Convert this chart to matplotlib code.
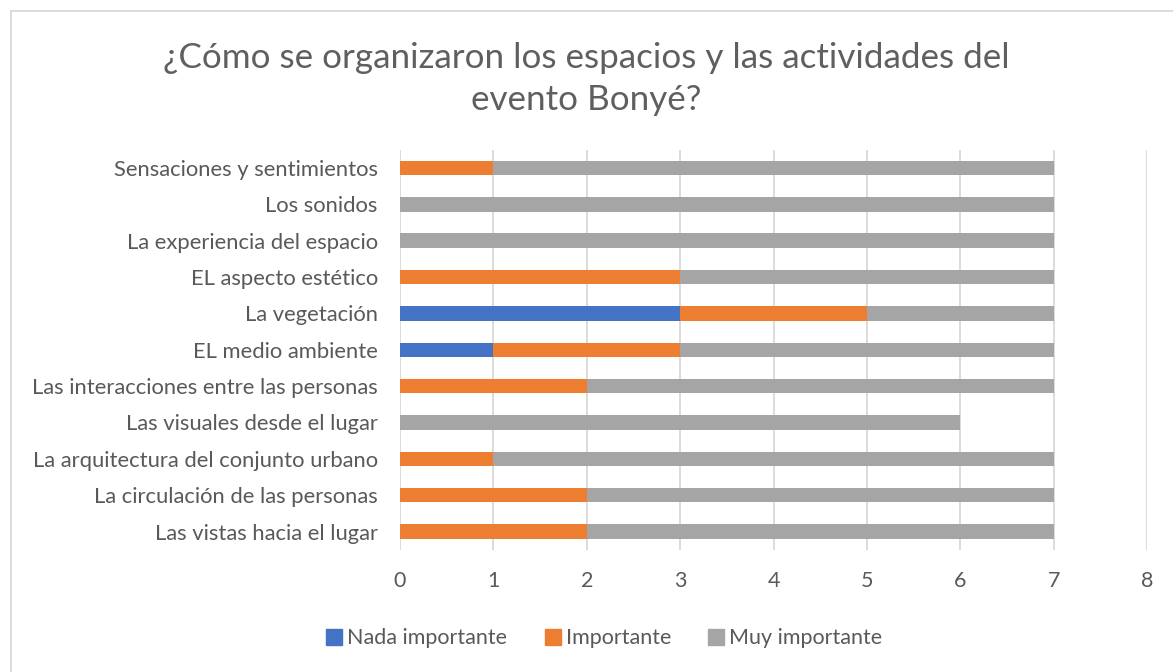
#!/usr/bin/env python3

import numpy as np
import matplotlib.pyplot as plt
from matplotlib.lines import Line2D

# categories listed bottom to top, as drawn
categories = [
    "Las vistas hacia el lugar",
    "La circulación de las personas",
    "La arquitectura del conjunto urbano",
    "Las visuales desde el lugar",
    "Las interacciones entre las personas",
    "EL medio ambiente",
    "La vegetación",
    "EL aspecto estético",
    "La experiencia del espacio",
    "Los sonidos",
    "Sensaciones y sentimientos",
]
nada_importante = [0, 0, 0, 0, 0, 1, 3, 0, 0, 0, 0]
importante = [2, 2, 1, 0, 2, 2, 2, 3, 0, 0, 1]
muy_importante = [5, 5, 6, 6, 5, 4, 2, 4, 7, 7, 6]

series_names = ["Nada importante", "Importante", "Muy importante"]
colors = ["#4472C4", "#ED7D31", "#A5A5A5"]
text_col = "#595959"

plt.rcParams['font.family'] = ['Lato', 'DejaVu Sans']

fig = plt.figure(figsize=(11.73, 6.72), dpi=100)
ax = fig.add_axes([0.341, 0.182, 0.637, 0.595])

y = np.arange(len(categories))
left = np.zeros(len(categories))
for vals, name, col in zip([nada_importante, importante, muy_importante], series_names, colors):
    ax.barh(y, vals, left=left, height=0.4, color=col, label=name, zorder=3)
    left = left + np.array(vals)

ax.set_xlim(0, 8)
ax.set_ylim(-0.5, len(categories) - 0.5)
ax.set_xticks(range(0, 9))
ax.set_yticks(y)
ax.set_yticklabels(categories)
ax.tick_params(axis='both', length=0, colors=text_col)
ax.tick_params(axis='y', labelsize=15.8, pad=16)
ax.tick_params(axis='x', labelsize=15.5, pad=15)
ax.grid(axis='x', color="#D9D9D9", linewidth=1.3, zorder=0)
for s in ax.spines.values():
    s.set_visible(False)

fig.text(0.5, 0.882, "¿Cómo se organizaron los espacios y las actividades del\nevento Bonyé?",
         ha='center', va='center', fontsize=25.2, color="#5f5f5f", linespacing=1.38)

handles = [Line2D([], [], marker='s', linestyle='none', markersize=12, color=c) for c in colors]
fig.legend(handles, series_names, loc='center', bbox_to_anchor=(0.514, 0.05), ncol=3,
           frameon=False, fontsize=15.5, labelcolor=text_col, handletextpad=0.1,
           columnspacing=1.6, handlelength=1.0)

# outer chart border (only top and left fall inside the picture)
fig.add_artist(Line2D([0.0094, 0.0094], [0.0, 0.984], color="#D9D9D9", linewidth=1.3,
                      transform=fig.transFigure))
fig.add_artist(Line2D([0.0094, 1.0], [0.984, 0.984], color="#D9D9D9", linewidth=1.3,
                      transform=fig.transFigure))

fig.savefig("out.png", dpi=100)
